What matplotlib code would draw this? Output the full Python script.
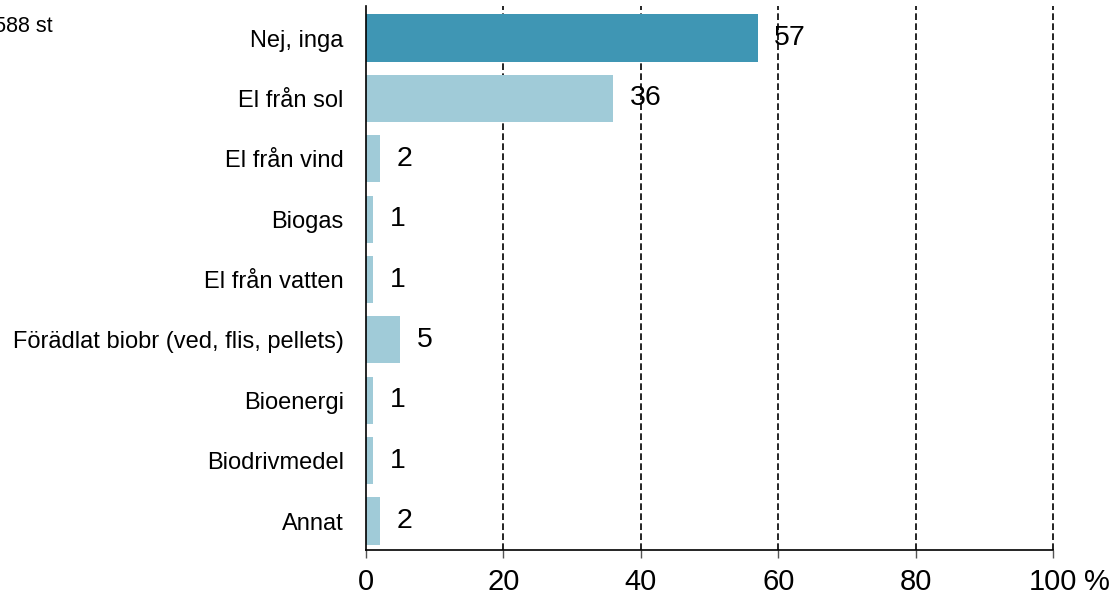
import matplotlib
matplotlib.use("Agg")
import matplotlib.pyplot as plt

categories = ["Nej, inga", "El från sol", "El från vind", "Biogas", "El från vatten",
              "Förädlat biobr (ved, flis, pellets)", "Bioenergi", "Biodrivmedel", "Annat"]
values = [57, 36, 2, 1, 1, 5, 1, 1, 2]
xticks = [0, 20, 40, 60, 80, 100]
xticklabels = ["0", "20", "40", "60", "80", "100"]
unit_label = "%"
colors = ["#3F96B4"] + ["#A0CBD8"] * 8

plt.rcParams["font.family"] = ["Liberation Sans", "DejaVu Sans"]

fig = plt.figure(figsize=(11.12, 5.97), dpi=100)
ax = fig.add_axes([366/1112, 1-550/597, (1053-366)/1112, (550-6)/597])

ypos = list(range(len(categories)))
ax.barh(ypos, values, height=0.78, color=colors, zorder=2)
ax.set_ylim(8.48, -0.53)
ax.set_xlim(0, 100)

for y, v in zip(ypos, values):
    ax.annotate(str(v), (v, y), xytext=(12, 0), textcoords="offset points",
                va="center", ha="left", fontsize=20.5, zorder=4)

for x in xticks[1:]:
    ax.axvline(x, color="black", linestyle=(0, (4, 2)), linewidth=1.2, zorder=1, clip_on=False)

ax.set_yticks(ypos)
ax.set_yticklabels(categories, fontsize=17)
ax.tick_params(axis="y", length=0, pad=16)
ax.set_xticks(xticks)
ax.set_xticklabels(xticklabels, fontsize=21)
ax.tick_params(axis="x", length=6, width=1, color="#555555", pad=7)

# unit label next to last tick
ax.annotate(unit_label, (100, 0), xycoords=("data", "axes fraction"),
            xytext=(22, -13), textcoords="offset points",
            ha="left", va="top", fontsize=21)

for s in ["top", "right"]:
    ax.spines[s].set_visible(False)
ax.spines["left"].set_linewidth(1.2)
ax.spines["bottom"].set_linewidth(1.2)

fig.text(53/1112, 1-27/597, "n = 1 588 st", ha="right", va="center", fontsize=15.5)

fig.savefig("out.png", dpi=100)
